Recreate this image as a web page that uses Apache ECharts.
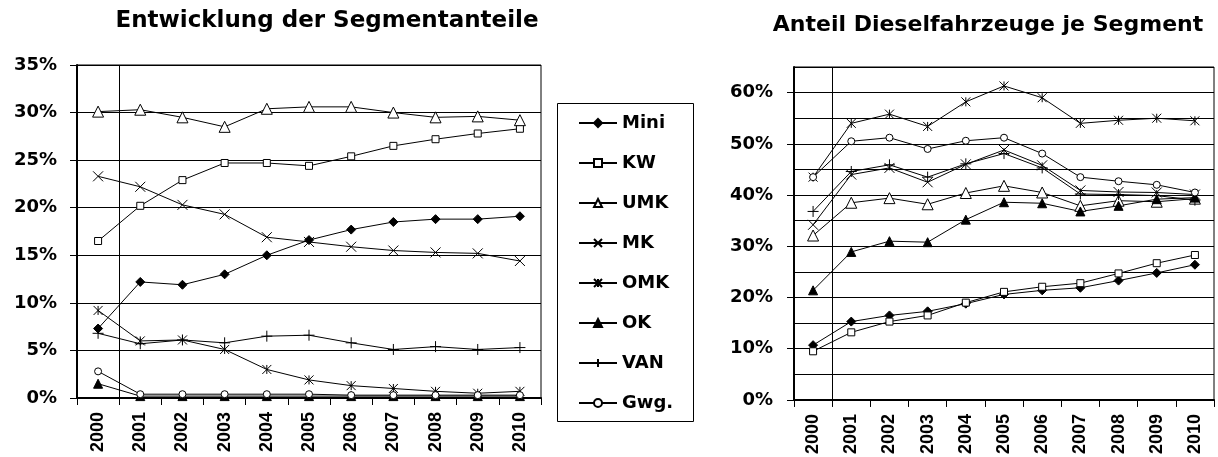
<!DOCTYPE html>
<html>
<head>
<meta charset="utf-8">
<script src="https://cdn.jsdelivr.net/npm/echarts@6/dist/echarts.min.js"></script>
<style>
  html, body { margin: 0; padding: 0; background: #fff; }
  #chart { width: 1218px; height: 457px; }
</style>
</head>
<body>
<div id="chart"></div>
<script>
// Years on the category axis
const years = ['2000', '2001', '2002', '2003', '2004', '2005', '2006', '2007', '2008', '2009', '2010'];
const segments = ['Mini', 'KW', 'UMK', 'MK', 'OMK', 'OK', 'VAN', 'Gwg.'];

// Segment shares of new registrations (%)
const shareMini = [7.3, 12.2, 11.9, 13.0, 15.0, 16.6, 17.7, 18.5, 18.8, 18.8, 19.1];
const shareKW   = [16.5, 20.2, 22.9, 24.7, 24.7, 24.4, 25.4, 26.5, 27.2, 27.8, 28.3];
const shareUMK  = [30.1, 30.3, 29.5, 28.5, 30.4, 30.6, 30.6, 30.0, 29.5, 29.6, 29.2];
const shareMK   = [23.3, 22.2, 20.3, 19.3, 16.9, 16.4, 15.9, 15.5, 15.3, 15.2, 14.4];
const shareOMK  = [9.2, 6.0, 6.1, 5.1, 3.0, 1.9, 1.3, 1.0, 0.7, 0.5, 0.7];
const shareOK   = [1.5, 0.2, 0.2, 0.2, 0.2, 0.2, 0.2, 0.2, 0.2, 0.2, 0.2];
const shareVAN  = [6.8, 5.7, 6.1, 5.8, 6.5, 6.6, 5.8, 5.1, 5.4, 5.1, 5.3];
const shareGwg  = [2.8, 0.4, 0.4, 0.4, 0.4, 0.4, 0.3, 0.3, 0.3, 0.3, 0.3];

// Diesel share within each segment (%)
const dieselMini = [10.7, 15.3, 16.5, 17.3, 18.8, 20.6, 21.4, 21.9, 23.3, 24.8, 26.4];
const dieselKW   = [9.5, 13.2, 15.3, 16.5, 19.0, 21.1, 22.1, 22.8, 24.7, 26.7, 28.3];
const dieselUMK  = [32.1, 38.5, 39.4, 38.2, 40.4, 41.8, 40.5, 37.9, 38.9, 38.7, 39.3];
const dieselMK   = [34.2, 44.0, 45.3, 42.5, 46.0, 48.8, 45.8, 40.9, 40.6, 40.5, 40.1];
const dieselOMK  = [43.5, 54.0, 55.8, 53.4, 58.2, 61.3, 59.0, 54.0, 54.6, 55.0, 54.5];
const dieselOK   = [21.4, 28.9, 31.0, 30.8, 35.2, 38.6, 38.4, 36.8, 37.9, 39.2, 39.5];
const dieselVAN  = [36.8, 44.6, 45.9, 43.5, 46.1, 48.1, 45.3, 40.2, 40.1, 39.9, 39.0];
const dieselGwg  = [43.5, 50.5, 51.2, 49.0, 50.6, 51.2, 48.1, 43.5, 42.7, 42.0, 40.5];

// Axis tick labels
const shareTicks = [0, 5, 10, 15, 20, 25, 30, 35];
const dieselTicks = [0, 10, 20, 30, 40, 50, 60];

const shareData = [shareMini, shareKW, shareUMK, shareMK, shareOMK, shareOK, shareVAN, shareGwg];
const dieselData = [dieselMini, dieselKW, dieselUMK, dieselMK, dieselOMK, dieselOK, dieselVAN, dieselGwg];

// Marker per segment
const markers = {
  'Mini': { symbol: 'diamond', size: 9, fill: '#000' },
  'KW':   { symbol: 'rect', size: 7, fill: '#fff' },
  'UMK':  { symbol: 'triangle', size: 11, fill: '#fff' },
  'MK':   { symbol: 'path://M0,0L10,10M10,0L0,10', size: 10, fill: 'transparent' },
  'OMK':  { symbol: 'path://M0,0L10,10M10,0L0,10M5,0L5,10', size: 9, fill: 'transparent' },
  'OK':   { symbol: 'triangle', size: 9, fill: '#000' },
  'VAN':  { symbol: 'path://M5,0L5,10M0,5L10,5', size: 11, fill: 'transparent' },
  'Gwg.': { symbol: 'circle', size: 7, fill: '#fff' }
};

const boldSans = 'DejaVu Sans';
const tickFont = 'Liberation Sans';

function makeSeries(name, data, xIdx, yIdx) {
  const m = markers[name];
  return {
    name: name,
    type: 'line',
    xAxisIndex: xIdx,
    yAxisIndex: yIdx,
    data: data,
    symbol: m.symbol,
    symbolSize: m.size,
    showAllSymbol: true,
    lineStyle: { color: '#000', width: 1 },
    itemStyle: { color: m.fill, borderColor: '#000', borderWidth: 1 },
    emphasis: { disabled: true },
    animation: false
  };
}

function xAxisFor(idx) {
  return {
    type: 'category',
    gridIndex: idx,
    position: 'bottom',
    data: years,
    boundaryGap: true,
    axisLine: { show: true, lineStyle: { color: '#000', width: 2 } },
    axisTick: { show: true, length: 7, lineStyle: { color: '#000', width: 1 } },
    axisLabel: {
      interval: 0, rotate: 90, margin: 14, color: '#000',
      fontFamily: tickFont, fontWeight: 'bold', fontSize: 18
    },
    splitLine: { show: false }
  };
}

// hidden linear axis spanning the category bands (0 .. 11)
function bandAxisFor(idx) {
  return { type: 'value', gridIndex: idx, position: 'top', min: 0, max: years.length, show: false };
}

// vertical separator between the first and second year
function separatorFor(xIdx, yIdx) {
  return {
    type: 'line', xAxisIndex: xIdx, yAxisIndex: yIdx, data: [],
    silent: true, animation: false,
    markLine: {
      silent: true, symbol: ['none', 'none'], animation: false,
      label: { show: false },
      lineStyle: { color: '#000', width: 1, type: 'solid' },
      emphasis: { disabled: true },
      data: [{ xAxis: 1 }]
    }
  };
}

const chart = echarts.init(document.getElementById('chart'), null, { renderer: 'canvas' });

const series = [];
segments.forEach(function (s, i) { series.push(makeSeries(s, shareData[i], 0, 0)); });
segments.forEach(function (s, i) { series.push(makeSeries(s, dieselData[i], 1, 1)); });
series.push(separatorFor(2, 0));
series.push(separatorFor(3, 1));

chart.setOption({
  backgroundColor: '#fff',
  animation: false,
  grid: [
    { left: 77, top: 65, width: 464, height: 333, show: true, borderColor: '#000', borderWidth: 1, containLabel: false },
    { left: 794, top: 67, width: 420, height: 335, show: true, borderColor: '#000', borderWidth: 1, containLabel: false }
  ],
  xAxis: [xAxisFor(0), xAxisFor(1), bandAxisFor(0), bandAxisFor(1)],
  yAxis: [
    {
      type: 'value', gridIndex: 0, position: 'left',
      min: shareTicks[0], max: shareTicks[shareTicks.length - 1], interval: 5,
      axisLine: { show: true, lineStyle: { color: '#000', width: 2 } },
      axisTick: { show: true, length: 7, lineStyle: { color: '#000' } },
      axisLabel: {
        formatter: '{value}%', margin: 20, color: '#000',
        fontFamily: boldSans, fontWeight: 'bold', fontSize: 18
      },
      splitLine: { show: true, lineStyle: { color: '#000', width: 1 } }
    },
    // diesel chart: gridlines every 5 %
    {
      type: 'value', gridIndex: 1, position: 'left',
      min: 0, max: 65, interval: 5,
      axisLine: { show: true, lineStyle: { color: '#000', width: 2 } },
      axisTick: { show: false },
      axisLabel: { show: false },
      splitLine: { show: true, lineStyle: { color: '#000', width: 1 } }
    },
    // diesel chart: labels and ticks every 10 %
    {
      type: 'value', gridIndex: 1, position: 'left', offset: 0,
      min: 0, max: 65, interval: 5,
      axisLine: { show: false },
      axisTick: { show: true, length: 7, customValues: dieselTicks, lineStyle: { color: '#000' } },
      axisLabel: {
        customValues: dieselTicks,
        formatter: '{value}%', margin: 21, color: '#000',
        fontFamily: boldSans, fontWeight: 'bold', fontSize: 18
      },
      splitLine: { show: false }
    }
  ],
  legend: {
    orient: 'vertical',
    left: 578,
    top: 114,
    padding: 0,
    itemWidth: 38,
    itemHeight: 10,
    itemGap: 22,
    selectedMode: false,
    data: segments,
    textStyle: { fontFamily: boldSans, fontWeight: 'bold', fontSize: 18, color: '#000' }
  },
  graphic: [
    {
      type: 'text', x: 327, y: 21,
      style: {
        text: 'Entwicklung der Segmentanteile',
        font: 'bold 23px "DejaVu Sans"', fill: '#000',
        textAlign: 'center', textVerticalAlign: 'middle', align: 'center', verticalAlign: 'middle'
      }
    },
    {
      type: 'text', x: 988, y: 25,
      style: {
        text: 'Anteil Dieselfahrzeuge je Segment',
        font: 'bold 22px "DejaVu Sans"', fill: '#000',
        textAlign: 'center', textVerticalAlign: 'middle', align: 'center', verticalAlign: 'middle'
      }
    },
    {
      type: 'rect', z: -1,
      shape: { x: 557.5, y: 103.5, width: 136, height: 318 },
      style: { fill: 'transparent', stroke: '#000', lineWidth: 1 }
    }
  ],
  series: series
});
</script>
</body>
</html>
